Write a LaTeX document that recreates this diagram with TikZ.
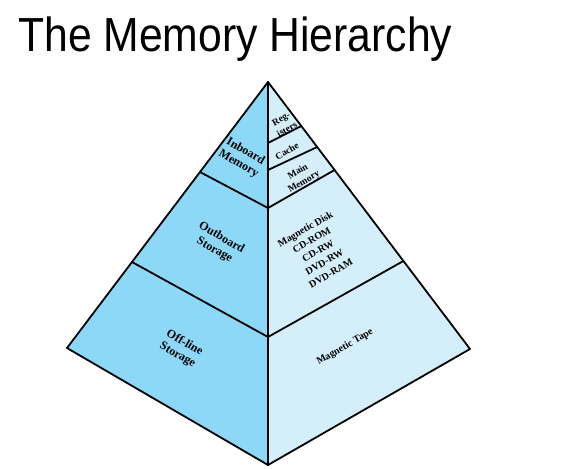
\documentclass[tikz,border=0pt]{standalone}
\usepackage{fontspec}
\setmainfont{Liberation Serif}
\newfontfamily\titlefont{Liberation Sans}
\definecolor{leftblue}{RGB}{141,215,247}
\definecolor{rightblue}{RGB}{212,238,250}
\begin{document}
\begin{tikzpicture}[x=1pt,y=-1pt,
  edge/.style={line width=1.8pt,line join=round,line cap=round},
  llab/.style={font=\bfseries\fontsize{12}{14}\selectfont,align=center,rotate=-30,inner sep=0pt},
  rlab/.style={font=\bfseries\fontsize{10}{12.8}\selectfont,align=center,rotate=30,inner sep=0pt},
  slab/.style={font=\bfseries\fontsize{9.5}{12}\selectfont,align=center,rotate=30,inner sep=0pt}]
\useasboundingbox (0,0) rectangle (577,468);
\coordinate (A) at (268,82);
\coordinate (L) at (67,348);
\coordinate (R) at (470,349);
\coordinate (B) at (268,465);
\coordinate (L1) at (200,172);
\coordinate (C1) at (268,208);
\coordinate (L2) at (132,262);
\coordinate (C2) at (268,337);
\coordinate (R1) at (334.6,170);
\coordinate (R2) at (403.4,261);
\coordinate (Ca) at (268,143);
\coordinate (Ra) at (301.3,126);
\coordinate (Cb) at (268,170);
\coordinate (Rb) at (317.2,147);
\fill[leftblue] (A) -- (L) -- (B) -- cycle;
\fill[rightblue] (A) -- (R) -- (B) -- cycle;
\draw[edge] (A) -- (L) -- (B) -- (R) -- cycle;
\draw[edge] (A) -- (B);
\draw[edge] (L1) -- (C1) -- (R1);
\draw[edge] (L2) -- (C2) -- (R2);
\draw[edge] (Ca) -- (Ra);
\draw[edge] (Cb) -- (Rb);
\node[anchor=base west,inner sep=0pt] (title) at (18,52) {\titlefont\fontsize{42.7}{44}\selectfont\scalebox{1}[1.12]{The Memory Hierarchy}};
\node[llab] (inboard) at (242,158) {Inboard\\Memory};
\node[llab] (outboard) at (218,244) {Outboard\\Storage};
\node[llab] (offline) at (181,349) {Off-line\\Storage};
\node[slab] (regs) at (284,124) {Reg-\\isters};
\node[slab] (cache) at (287,151) {Cache};
\node[slab] (mainmem) at (301,177) {Main\\Memory};
\node[rlab] (disk) at (318,251) {Magnetic Disk\\CD-ROM\\CD-RW\\DVD-RW\\DVD-RAM};
\node[rlab] (tape) at (345,347) {Magnetic Tape};
\end{tikzpicture}
\end{document}
